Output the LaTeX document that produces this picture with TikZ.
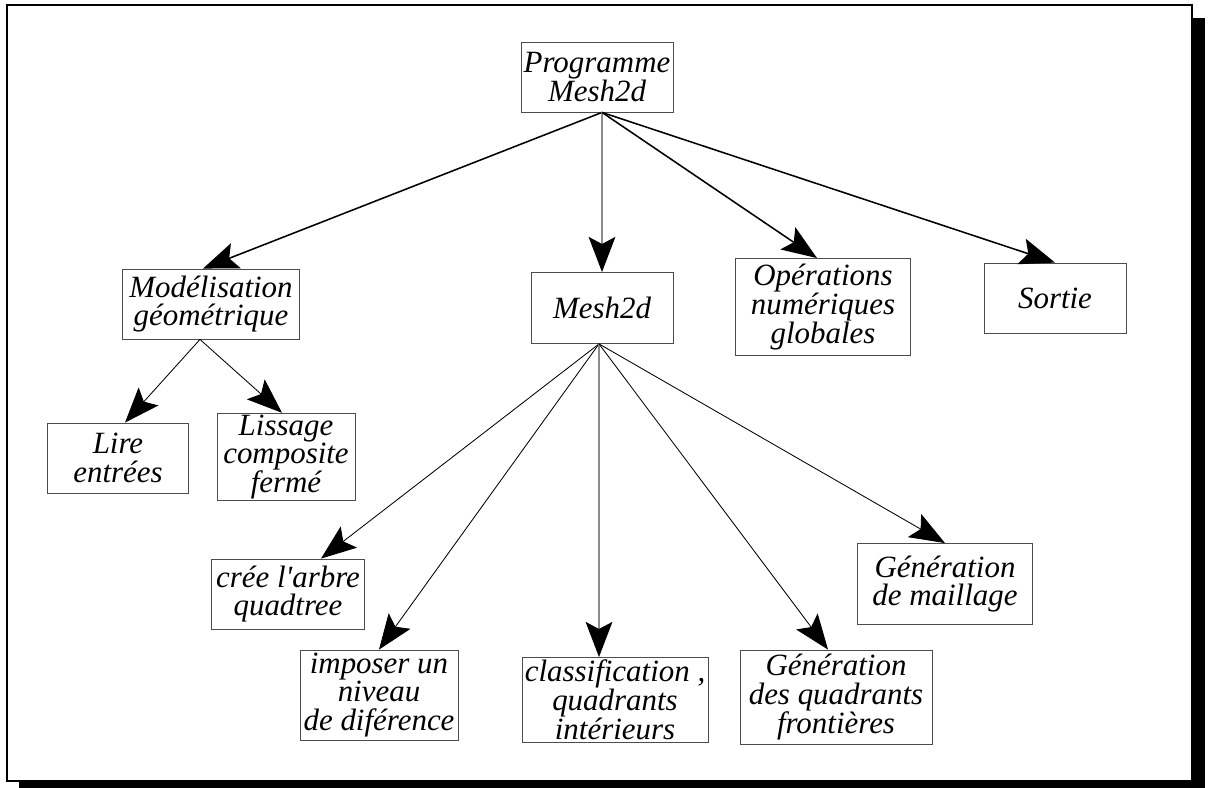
\documentclass[tikz,border=0pt]{standalone}
\usepackage{fontspec}
\setmainfont{Liberation Serif}
\usetikzlibrary{arrows.meta}

\newdimen\px
\px=0.025cm

\tikzset{
  bloc/.style={draw=black!70, line width=0.6pt, align=center, inner sep=1pt,
    font=\itshape\fontsize{22}{20.5}\selectfont},
  fleche/.style={-{Stealth[length=25pt,width=19pt,inset=5pt,color=black]}},
  epais/.style={fleche, line width=1.1pt},
  fin/.style={fleche, line width=0.6pt},
}

\begin{document}
\begin{tikzpicture}[x=0.025cm,y=-0.025cm]
  \useasboundingbox (0,0) rectangle (1209,788);

  % cadre avec ombre
  \fill (19,18) rectangle (1205,788);
  \filldraw[fill=white, line width=1.4pt] (7,5) rectangle (1192,781);

  \node[bloc, minimum width=152\px, minimum height=70\px] (prog) at (597,77) {Programme\\Mesh2d};

  \node[bloc, minimum width=177\px, minimum height=70\px] (model) at (211,304) {Modélisation\\géométrique};
  \node[bloc, minimum width=142\px, minimum height=71\px] (mesh) at (602,308) {Mesh2d};
  \node[bloc, minimum width=175\px, minimum height=97\px] (oper) at (823,307) {Opérations\\numériques\\globales};
  \node[bloc, minimum width=142\px, minimum height=70\px] (sortie) at (1055,298) {Sortie};

  \node[bloc, minimum width=141\px, minimum height=70\px] (lire) at (118,458) {Lire\\entrées};
  \node[bloc, minimum width=138\px, minimum height=82\px] (lissage) at (286,457) {Lissage\\composite\\fermé};

  \node[bloc, minimum width=153\px, minimum height=70\px] (arbre) at (288,594) {crée l\textquotesingle arbre\\quadtree};
  \node[bloc, minimum width=158\px, minimum height=90\px] (niveau) at (379,695) {imposer un\\niveau\\de diférence};
  \node[bloc, minimum width=186\px, minimum height=85\px] (classif) at (615,700) {classification ,\\quadrants\\intérieurs};
  \node[bloc, minimum width=192\px, minimum height=94\px] (front) at (836,697) {Génération\\des quadrants\\frontières};
  \node[bloc, minimum width=175\px, minimum height=81\px] (maillage) at (945,584) {Génération\\de maillage};

  % premier niveau
  \draw[epais] ([xshift=5\px]prog.south) -- ([xshift=-8\px]model.north);
  \draw[epais, draw=black!45] ([xshift=5\px]prog.south) -- (mesh.north);
  \draw[epais] ([xshift=5\px]prog.south) -- ([xshift=-6\px]oper.north);
  \draw[epais] ([xshift=5\px]prog.south) -- (sortie.north);

  % modelisation
  \draw[fin] ([xshift=-11\px]model.south) -- ([xshift=7\px]lire.north);
  \draw[fin] ([xshift=-11\px]model.south) -- ([xshift=-4\px]lissage.north);

  % mesh2d
  \draw[fin] ([xshift=-3\px]mesh.south) -- ([xshift=33\px]arbre.north);
  \draw[fin] ([xshift=-3\px]mesh.south) -- (niveau.north);
  \draw[fin, draw=black!45, line width=1.1pt] ([xshift=-3\px]mesh.south) -- ([xshift=-16\px]classif.north);
  \draw[fin] ([xshift=-3\px]mesh.south) -- ([xshift=-8\px]front.north);
  \draw[fin] ([xshift=-3\px]mesh.south) -- (maillage.north);
\end{tikzpicture}
\end{document}
